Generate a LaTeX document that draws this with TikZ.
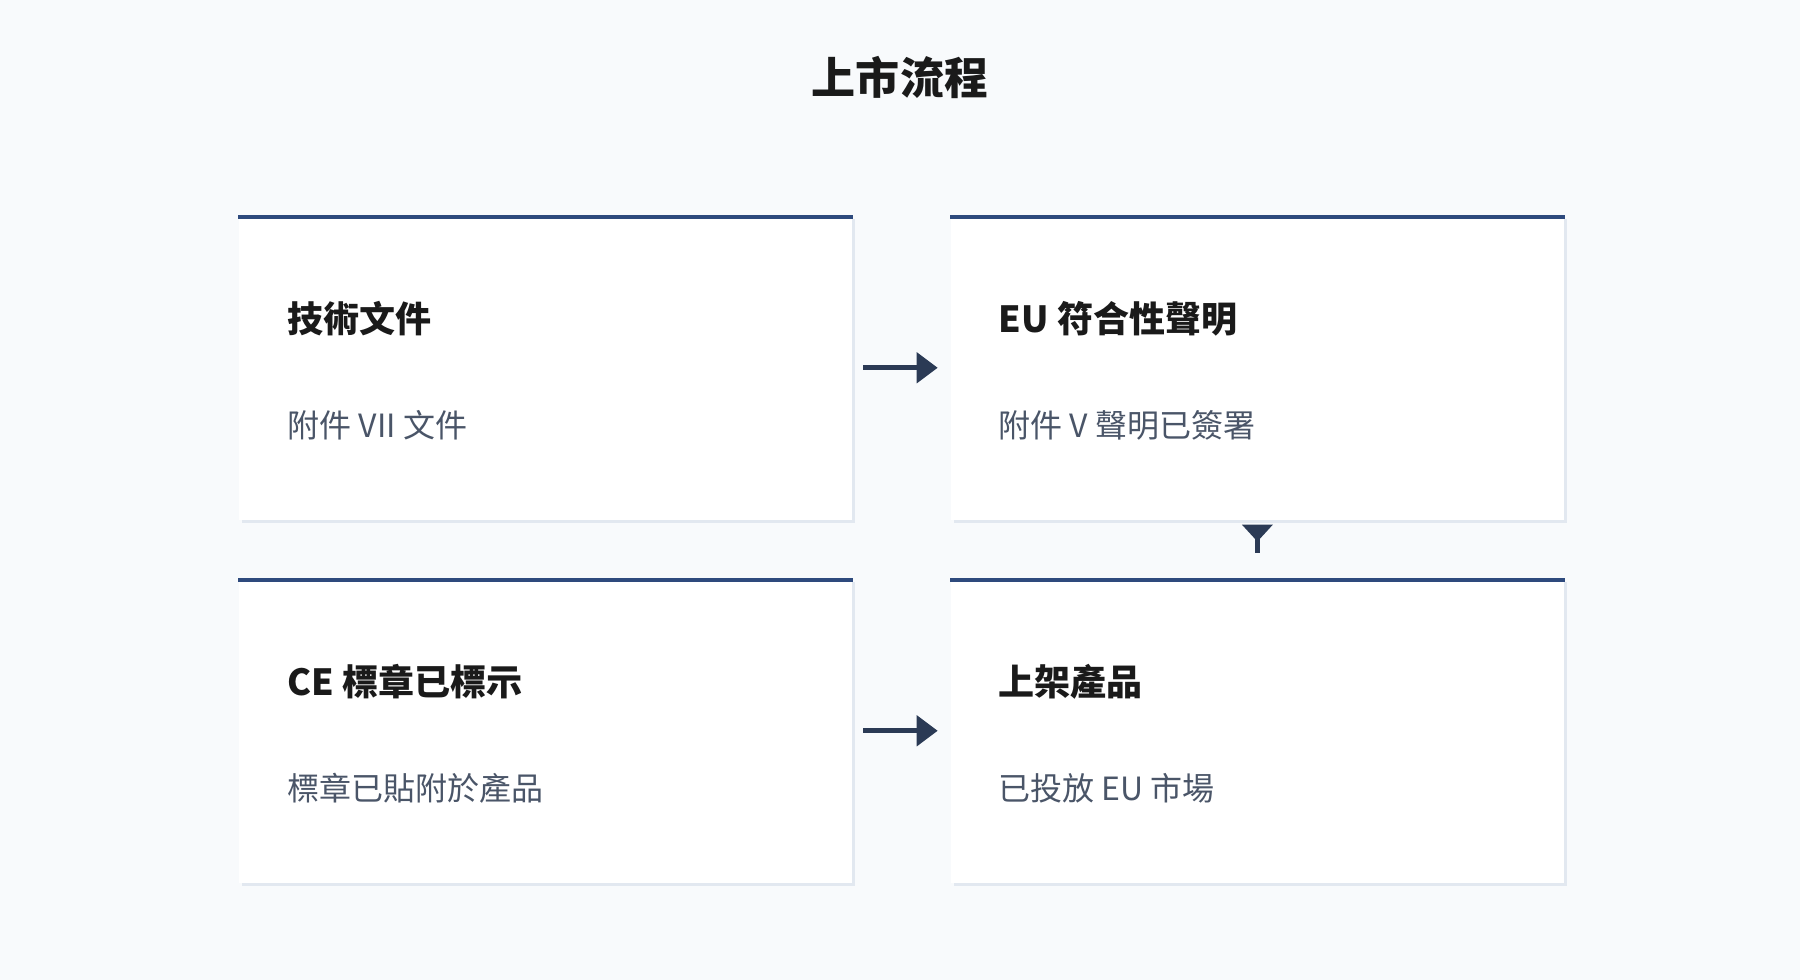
\documentclass[tikz,border=0pt]{standalone}
\usepackage{fontspec}
\setmainfont{Noto Sans CJK TC}
\usepackage{xcolor}
\usetikzlibrary{arrows.meta}
\usetikzlibrary{positioning}
\usetikzlibrary{shadows}
\definecolor{pagebg}{HTML}{F8FAFC}
\definecolor{cardedge}{HTML}{E2E8F0}
\definecolor{barblue}{HTML}{2E4A7D}
\definecolor{arrowc}{HTML}{2B3A55}
\definecolor{headc}{HTML}{1A1A1A}
\definecolor{subc}{HTML}{4A5568}
\begin{document}
\begin{tikzpicture}[line cap=butt,line join=miter,x=0.01cm,y=-0.01cm,
  card/.style={fill=white,minimum width=6.13cm,minimum height=3.04cm,inner sep=0pt,anchor=north west,
    general shadow={fill=cardedge,shadow xshift=0.03cm,shadow yshift=-0.03cm}},
  topbar/.style={draw=barblue,line width=0.045cm},
  maintitle/.style={anchor=base,inner sep=0pt,text=headc,font=\fontsize{12.52pt}{15pt}\selectfont\bfseries},
  headtext/.style={anchor=base west,inner sep=0pt,text=headc,font=\fontsize{10.24pt}{12pt}\selectfont\bfseries},
  subtext/.style={anchor=base west,inner sep=0pt,text=subc,font=\fontsize{9.1pt}{11pt}\selectfont},
  flow/.style={draw=arrowc,line width=0.05cm,-{Triangle[length=0.21cm,width=0.30cm]},shorten <=0.107cm,shorten >=0.123cm},
  flowdown/.style={draw=arrowc,line width=0.05cm,-{Triangle[reversed,length=0.17cm,width=0.30cm]},shorten <=0.25cm,shorten >=0.04cm}]
\fill[pagebg] (0,0) rectangle (1800,980);
\useasboundingbox (0,0) rectangle (1800,980);
\node[maintitle] (title) at (900,95) {上市流程};
\node[card] (b1) at (238,215) {};
\node[card] (b2) at (950,215) {};
\node[card] (b3) at (238,578) {};
\node[card] (b4) at (950,578) {};
\draw[topbar] ([yshift=-0.0225cm]b1.north west) -- ([yshift=-0.0225cm]b1.north east);
\draw[topbar] ([yshift=-0.0225cm]b2.north west) -- ([yshift=-0.0225cm]b2.north east);
\draw[topbar] ([yshift=-0.0225cm]b3.north west) -- ([yshift=-0.0225cm]b3.north east);
\draw[topbar] ([yshift=-0.0225cm]b4.north west) -- ([yshift=-0.0225cm]b4.north east);
\node[headtext] (h1) at (287,333) {技術文件};
\node[subtext] (s1) at (287,438) {附件 VII 文件};
\node[headtext] (h2) at (998,333) {EU 符合性聲明};
\node[subtext] (s2) at (998,438) {附件 V 聲明已簽署};
\node[headtext] (h3) at (287,696) {CE 標章已標示};
\node[subtext] (s3) at (287,801) {標章已貼附於產品};
\node[headtext] (h4) at (998,696) {上架產品};
\node[subtext] (s4) at (998,801) {已投放 EU 市場};
\draw[flow] (b1.east) -- (b2.west);
\draw[flow] (b3.east) -- (b4.west);
\draw[flowdown] (b4.north) -- (b2.south);
\end{tikzpicture}
\end{document}
